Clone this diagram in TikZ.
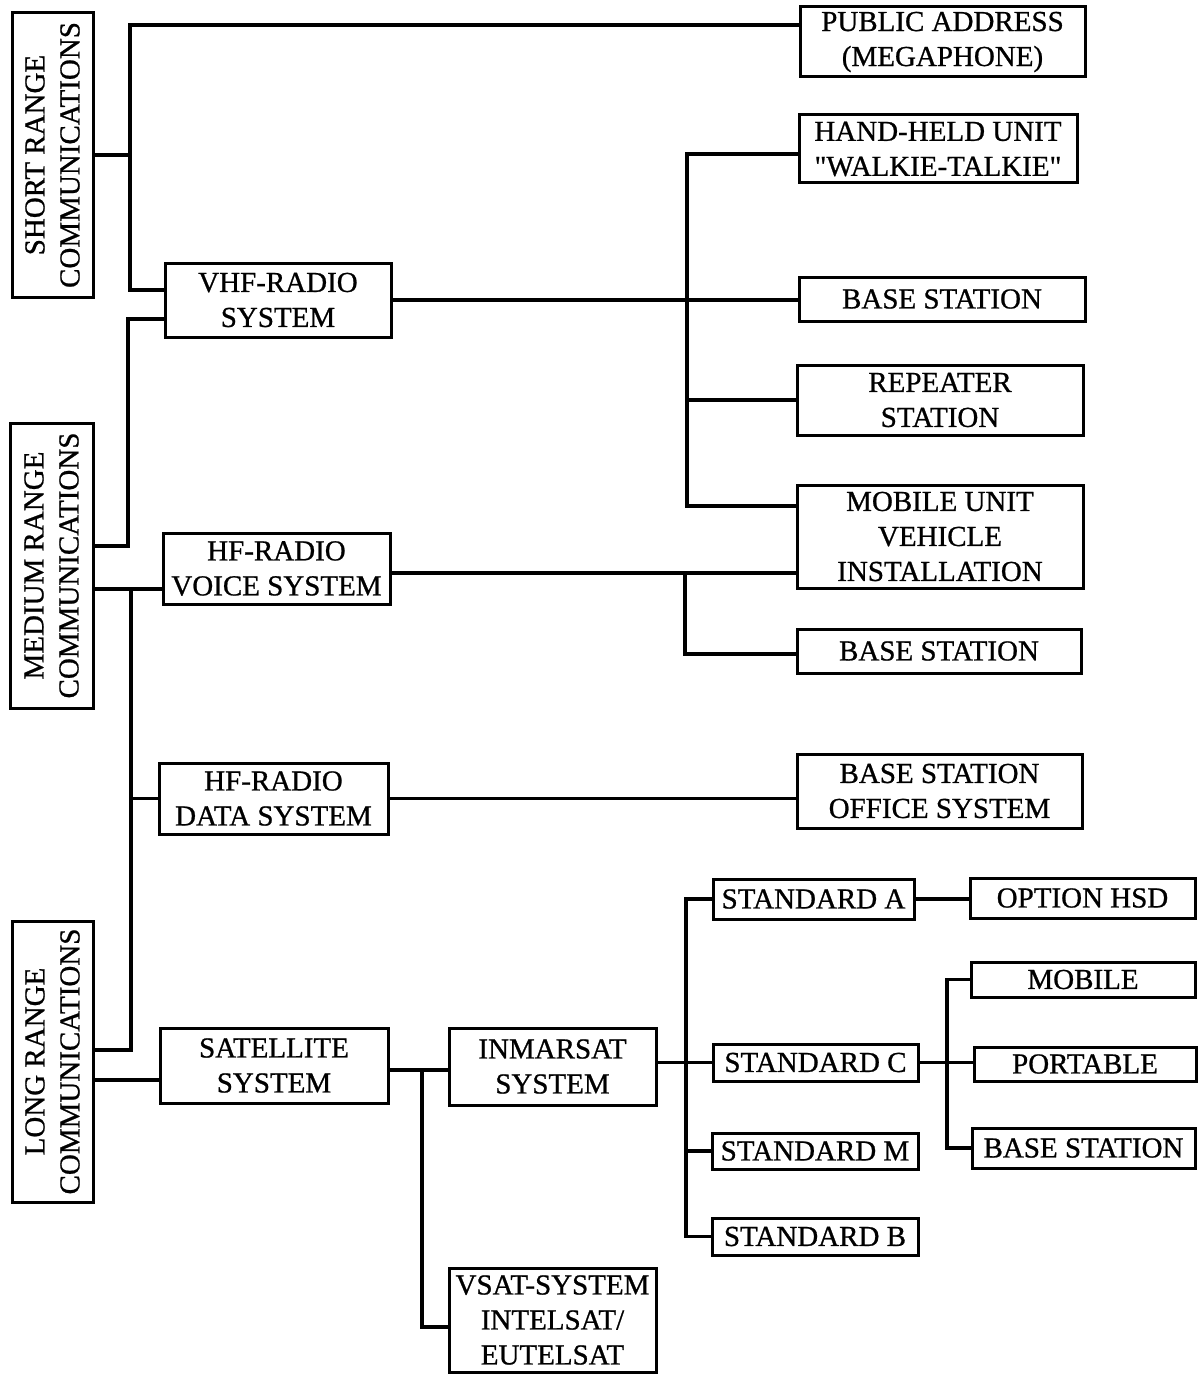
\documentclass[tikz,border=0pt]{standalone}
\usepackage{fontspec}
\setmainfont{Liberation Serif}[FakeBold=0.8]
\newcommand\dquote{\XeTeXglyph\numexpr\XeTeXcharglyph"22\relax}

\begin{document}
\begin{tikzpicture}[x=1pt, y=-1pt,
box/.style={draw, line width=3pt, inner sep=0pt, align=center, font=\fontsize{29}{35}\selectfont},
vbox/.style={box, rotate=90},
link/.style={line width=3.4pt}]
\useasboundingbox (0,0) rectangle (1203,1375);

% ranges
\node [vbox, minimum width=284pt, minimum height=81pt] (short) at (52.5,155) {SHORT RANGE\\COMMUNICATIONS};
\node [vbox, minimum width=285pt, minimum height=83pt] (medium) at (51.5,565.5) {MEDIUM RANGE\\COMMUNICATIONS};
\node [vbox, minimum width=281pt, minimum height=81pt] (long) at (52.5,1061.5) {LONG RANGE\\COMMUNICATIONS};

% systems
\node [box, minimum width=226pt, minimum height=74pt] (vhf) at (278,300) {VHF-RADIO\\SYSTEM};
\node [box, minimum width=227pt, minimum height=71pt] (hfv) at (276.5,568.5) {HF-RADIO\\VOICE SYSTEM};
\node [box, minimum width=229pt, minimum height=71pt] (hfd) at (273.5,798.5) {HF-RADIO\\DATA SYSTEM};
\node [box, minimum width=228pt, minimum height=75pt] (sat) at (274,1065.5) {SATELLITE\\SYSTEM};
\node [box, minimum width=207pt, minimum height=77pt] (inm) at (552.5,1066.5) {INMARSAT\\SYSTEM};
\node [box, minimum width=207pt, minimum height=104pt] (vsat) at (552.5,1320) {VSAT-SYSTEM\\INTELSAT/\\EUTELSAT};

% units
\node [box, minimum width=285pt, minimum height=70pt] (pa) at (942.5,42) {PUBLIC ADDRESS\\(MEGAPHONE)};
\node [box, minimum width=278pt, minimum height=68pt] (hh) at (938,149) {HAND-HELD UNIT\\\dquote WALKIE-TALKIE\dquote};
\node [box, minimum width=286pt, minimum height=44pt] (bs1) at (942,299) {BASE STATION};
\node [box, minimum width=286pt, minimum height=70pt] (rep) at (940,400) {REPEATER\\STATION};
\node [box, minimum width=286pt, minimum height=103pt] (mob) at (940,536.5) {MOBILE UNIT\\VEHICLE\\INSTALLATION};
\node [box, minimum width=284pt, minimum height=44pt] (bs2) at (939,651) {BASE STATION};
\node [box, minimum width=285pt, minimum height=74pt] (bso) at (939.5,791) {BASE STATION\\OFFICE SYSTEM};

% inmarsat standards
\node [box, minimum width=201pt, minimum height=40pt] (sa) at (813.5,899) {STANDARD A};
\node [box, minimum width=205pt, minimum height=37pt] (sc) at (815.5,1062.5) {STANDARD C};
\node [box, minimum width=206pt, minimum height=36pt] (sm) at (815,1151) {STANDARD M};
\node [box, minimum width=206pt, minimum height=37pt] (sb) at (815,1236.5) {STANDARD B};
\node [box, minimum width=225pt, minimum height=40pt] (hsd) at (1082.5,898) {OPTION HSD};
\node [box, minimum width=224pt, minimum height=35pt] (mobile) at (1083,979.5) {MOBILE};
\node [box, minimum width=222pt, minimum height=34pt] (port) at (1085,1064) {PORTABLE};
\node [box, minimum width=223pt, minimum height=40pt] (bs3) at (1083.5,1148) {BASE STATION};

% bus lines
\coordinate (busS) at (130,0);
\coordinate (busM) at (128,0);
\coordinate (busL) at (131,0);
\coordinate (busV) at (687,0);
\coordinate (busH) at (685,0);
\coordinate (busSat) at (422,0);
\coordinate (busI) at (686,0);
\coordinate (busC) at (947,0);

\begin{scope}[link]
\draw ([yshift=17pt]pa.west) -| ([yshift=10pt]vhf.west -| busS) -- ([yshift=10pt]vhf.west);
\draw (short.south) -- (short.south -| busS);
\draw ([yshift=19.5pt]medium.south) -| ([yshift=-19pt]vhf.west -| busM) -- ([yshift=-19pt]vhf.west);
\draw ([yshift=-20.5pt]hfv.west) -- ([yshift=-20.5pt]hfv.west -| medium.south);
\draw ([yshift=-20.5pt]hfv.west -| busL) |- ([yshift=11.5pt]long.south);
\draw (hfd.west -| busL) -- (hfd.west);
\draw ([yshift=-14.5pt]sat.west) -- ([yshift=-14.5pt]sat.west -| long.south);

\draw (vhf.east) -- (vhf.east -| bs1.west);
\draw ([yshift=-5pt]hh.west) -| ([yshift=30.5pt]mob.west -| busV) -- ([yshift=30.5pt]mob.west);
\draw (rep.west -| busV) -- (rep.west);
\draw ([yshift=-4.5pt]hfv.east) -- ([yshift=-4.5pt]hfv.east -| mob.west);
\draw ([yshift=-4.5pt]hfv.east -| busH) |- ([yshift=-3pt]bs2.west);
\draw (hfd.east) -- (hfd.east -| bso.west);

\draw ([yshift=-4.5pt]sat.east) -- ([yshift=-4.5pt]sat.east -| inm.west);
\draw ([yshift=-4.5pt]sat.east -| busSat) |- ([yshift=-7pt]vsat.west);
\draw (inm.east |- sc.west) -- (sc.west);
\draw (sa.west) -| (busI |- sb.west) -- (sb.west);
\draw (sm.west -| busI) -- (sm.west);
\draw (sa.east) -- (sa.east -| hsd.west);
\draw (sc.east) -- (sc.east -| port.west);
\draw (mobile.west) -| (busC |- bs3.west) -- (bs3.west);
\end{scope}
\end{tikzpicture}
\end{document}
